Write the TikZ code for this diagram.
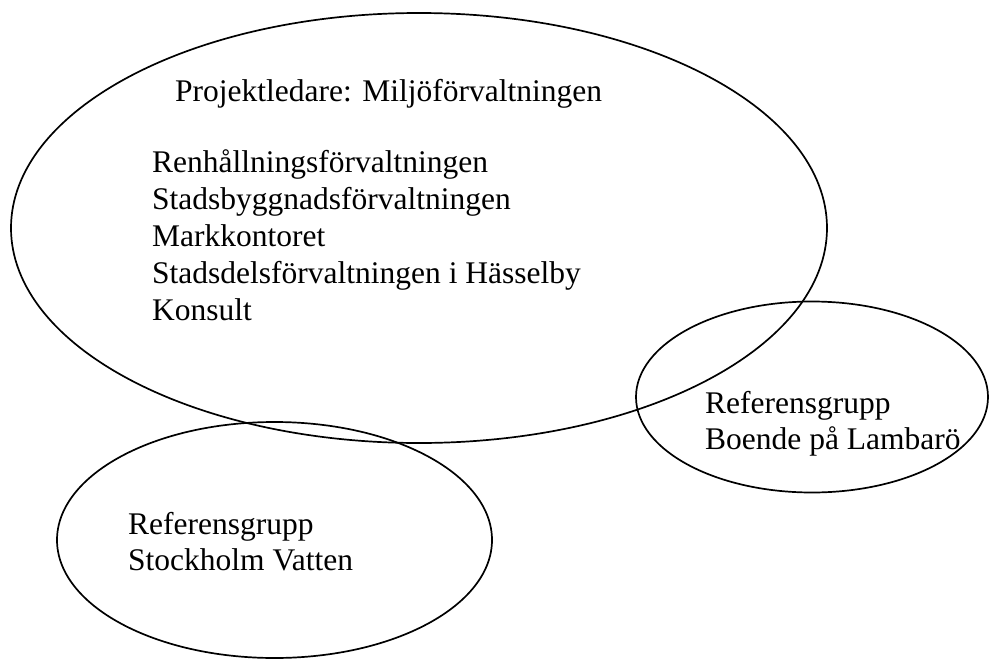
\documentclass[tikz,border=0pt]{standalone}
\usepackage{fontspec}
\setmainfont{Liberation Serif}
\usetikzlibrary{shapes.geometric}
\begin{document}
\begin{tikzpicture}[x=1pt,y=-1pt,
  oval/.style={ellipse,draw,line width=1.7pt,inner sep=0pt,outer sep=0pt},
  lbl/.style={anchor=base west,inner sep=0pt,font=\fontsize{31.5}{37}\selectfont}]
\useasboundingbox (0,0) rectangle (989,659);
\node[oval,minimum width=816pt,minimum height=430pt] (main) at (419,228) {};
\node[oval,minimum width=352pt,minimum height=191pt] (lamb) at (812,397) {};
\node[oval,minimum width=435pt,minimum height=236pt] (sthlm) at (274.5,540) {};
\node[lbl] (pl) at (175,101) {Projektledare: Miljöförvaltningen};
\node[lbl] (l1) at (152,172) {Renhållningsförvaltningen};
\node[lbl] (l2) at (152,209) {Stadsbyggnadsförvaltningen};
\node[lbl] (l3) at (152,246) {Markkontoret};
\node[lbl] (l4) at (152,283) {Stadsdelsförvaltningen i Hässelby};
\node[lbl] (l5) at (152,320) {Konsult};
\node[lbl] (r1) at (705,413) {Referensgrupp};
\node[lbl] (r2) at (705,449) {Boende på Lambarö};
\node[lbl] (s1) at (128,534) {Referensgrupp};
\node[lbl] (s2) at (128,570) {Stockholm Vatten};
\end{tikzpicture}
\end{document}
